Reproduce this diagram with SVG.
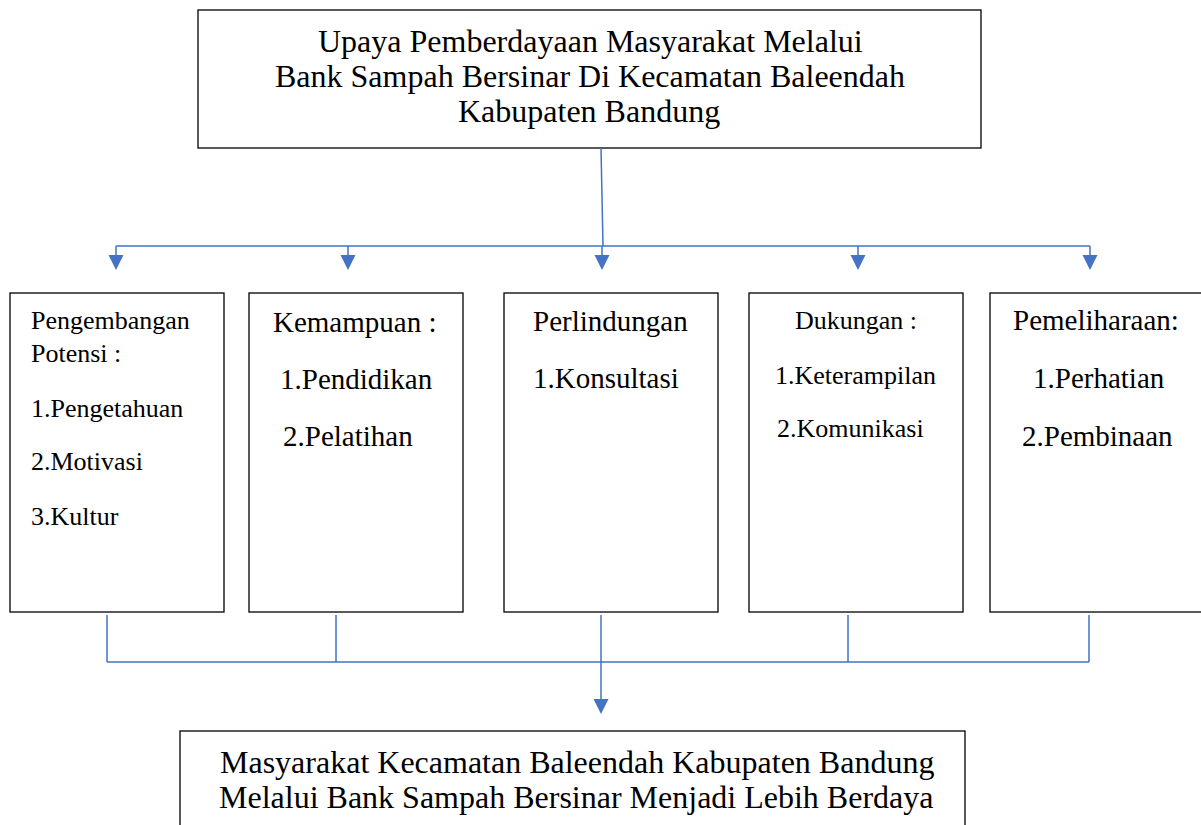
<svg xmlns="http://www.w3.org/2000/svg" width="1201" height="825" viewBox="0 0 1201 825">
<style>
.box{fill:#fff;stroke:#000;stroke-width:1.3}
.t{font-family:"Liberation Serif","Times New Roman",serif;fill:#000}
.big{font-size:32px}
.m{font-size:29px}
.s{font-size:26px}
.c{stroke:#4472C4;stroke-width:1.5;fill:none}
.ah{fill:#4472C4}
</style>
<defs>
<polygon id="head" points="-7.5,0 7.5,0 0,15"/>
</defs>
<rect width="1201" height="825" fill="#fff"/>
<g id="top">
<rect class="box" x="198" y="10" width="783" height="138"/>
<text class="t big" x="318" y="52">Upaya Pemberdayaan Masyarakat Melalui</text>
<text class="t big" x="275" y="87">Bank Sampah Bersinar Di Kecamatan Baleendah</text>
<text class="t big" x="458" y="122">Kabupaten Bandung</text>
</g>
<g id="connectors">
<path class="c" d="M601,148 L603,246"/>
<path class="c" d="M116,246 H1090"/>
<path class="c" d="M116,246 V256 M348,246 V256 M602,246 V256 M858,246 V256 M1090,246 V256"/>
<use href="#head" class="ah" x="116" y="255"/>
<use href="#head" class="ah" x="348" y="255"/>
<use href="#head" class="ah" x="602" y="255"/>
<use href="#head" class="ah" x="858" y="255"/>
<use href="#head" class="ah" x="1090" y="255"/>
<path class="c" d="M107,615 V662 M336,615 V662 M848,615 V662 M1089,615 V662 M107,662 H1089"/>
<path class="c" d="M601,615 V700"/>
<use href="#head" class="ah" x="601" y="699"/>
</g>
<g id="n1">
<rect class="box" x="10" y="293" width="214" height="319"/>
<text class="t s" x="31" y="329">Pengembangan</text>
<text class="t s" x="31" y="362">Potensi :</text>
<text class="t s" x="31" y="417">1.Pengetahuan</text>
<text class="t s" x="31" y="470">2.Motivasi</text>
<text class="t s" x="31" y="525">3.Kultur</text>
</g>
<g id="n2">
<rect class="box" x="249" y="293" width="214" height="319"/>
<text class="t m" x="273" y="332">Kemampuan :</text>
<text class="t m" x="280" y="389">1.Pendidikan</text>
<text class="t m" x="283" y="446">2.Pelatihan</text>
</g>
<g id="n3">
<rect class="box" x="504" y="293" width="214" height="319"/>
<text class="t m" x="533" y="331">Perlindungan</text>
<text class="t m" x="533" y="388">1.Konsultasi</text>
</g>
<g id="n4">
<rect class="box" x="749" y="293" width="214" height="319"/>
<text class="t s" x="795" y="329">Dukungan :</text>
<text class="t s" x="775" y="384">1.Keterampilan</text>
<text class="t s" x="777" y="437">2.Komunikasi</text>
</g>
<g id="n5">
<rect class="box" x="990" y="293" width="215" height="319"/>
<text class="t m" x="1013" y="330">Pemeliharaan:</text>
<text class="t m" x="1033" y="388">1.Perhatian</text>
<text class="t m" x="1022" y="446">2.Pembinaan</text>
</g>
<g id="bottom">
<rect class="box" x="180" y="731" width="785" height="110"/>
<text class="t big" x="220" y="773">Masyarakat Kecamatan Baleendah Kabupaten Bandung</text>
<text class="t big" x="219" y="808">Melalui Bank Sampah Bersinar Menjadi Lebih Berdaya</text>
</g>
</svg>
